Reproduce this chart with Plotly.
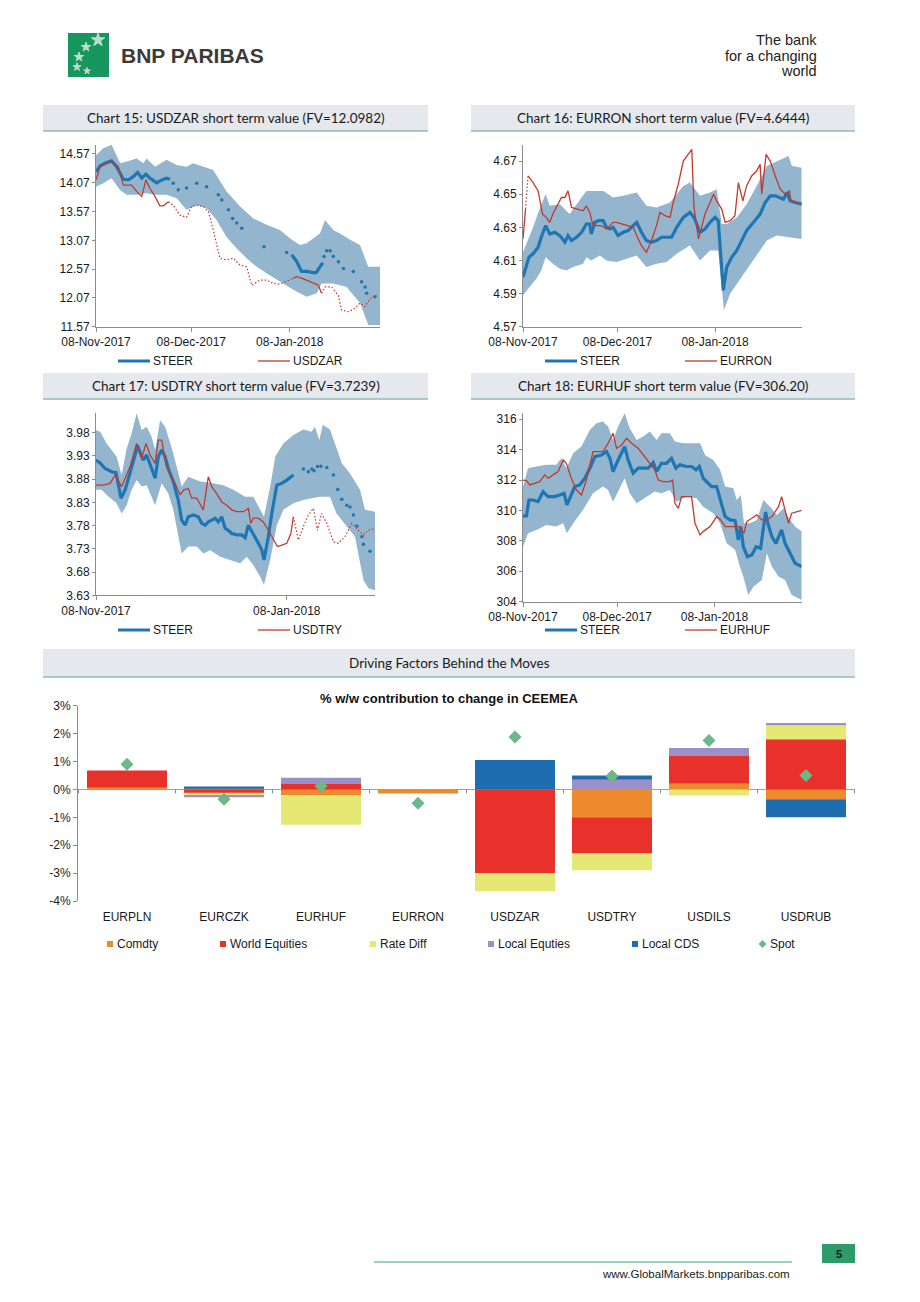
import pandas as pd
import plotly.graph_objects as go

W, H = 920, 1302
BASE = pd.Timestamp("2017-11-08")
FONT = "Liberation Sans, Arial, sans-serif"
TFONT = "Lato, Open Sans, sans-serif"
BLUE = "#1E76B3"
RED = "#C23A2C"
BAND = "#93B5CE"
AX = "#8C8C8C"
TXT = "#1A1A1A"

# ---------------- shared tick labels ----------------
date_tickvals = ["2017-11-08", "2017-12-08", "2018-01-08"]
date_ticktext = ["08-Nov-2017", "08-Dec-2017", "08-Jan-2018"]
try_date_tickvals = ["2017-11-08", "2018-01-08"]
try_date_ticktext = ["08-Nov-2017", "08-Jan-2018"]

# ---------------- Chart 15: USDZAR (days since 08-Nov-2017) ----------------
zar_yticks = [11.57, 12.07, 12.57, 13.07, 13.57, 14.07, 14.57]
zar_steer_days = [0, 1.3, 2.8, 4.9, 6.5, 8.6, 10.2, 11.8, 13.1, 14.4, 15.7, 17, 19.1, 20.7, 22.2, 23.3,
                  24.3, 25.9, 28.5, 31.7, 34.8, 38.5, 39.6, 41.7, 43, 44.3, 45.9, 52.9, 60,
                  61.6, 63.2, 64.7, 66.3, 68.4, 69.3, 70.5, 71.4,
                  71.8, 72.6, 73.7, 74.7, 76.3, 77.9, 81, 83.6, 84.7, 85.2, 87.8]
zar_steer = [14.26, 14.36, 14.41, 14.45, 14.35, 14.13, 14.12, 14.18, 14.25, 14.15, 14.22, 14.15, 14.07, 14.12, 14.15, 14.13,
             14.06, 13.95, 13.98, 14.06, 14.00, 13.86, 13.77, 13.60, 13.45, 13.37, 13.28, 12.96, 12.86,
             12.82, 12.70, 12.53, 12.53, 12.51, 12.51, 12.61, 12.68,
             12.79, 12.89, 12.89, 12.79, 12.70, 12.58, 12.53, 12.35, 12.26, 12.15, 12.09]
zar_spot_days = [0, 1.3, 4.9, 7, 8.6, 11.2, 12.8, 14.4, 15.7, 17, 18.6, 20.1, 21.2, 22.8,
                 24.3, 26.4, 28.5, 30.1, 31.7, 33.8, 35.4, 36.9, 39, 41.1, 43.2, 45.3, 47.4, 49, 51.6, 53.7, 55.8, 57.9, 60.5,
                 62.1, 63.2, 65.3, 67.4, 70, 71,
                 72.1, 74.2, 76.3, 77.3, 79.4, 81.5, 83.1, 84.7, 86.3, 88.4]
zar_spot = [14.12, 14.35, 14.44, 14.35, 14.03, 14.03, 13.92, 13.83, 14.12, 13.97, 13.83, 13.67, 13.67, 13.74,
            13.68, 13.51, 13.47, 13.66, 13.68, 13.66, 13.57, 13.25, 12.76, 12.73, 12.76, 12.64, 12.61, 12.29, 12.38, 12.38, 12.32, 12.31, 12.38,
            12.41, 12.44, 12.40, 12.35, 12.29, 12.15,
            12.26, 12.26, 12.11, 11.86, 11.83, 11.89, 11.98, 11.92, 12.06, 12.12]
zar_up_days = [0, 2.3, 4.9, 7.6, 9.7, 12.8, 14.9, 15.9, 18.6, 22.2, 25.4, 28.5, 30.6, 33.8, 36.9, 41.1, 45.3, 49.5,
               53.7, 57.9, 61.1, 64.2, 66.3, 70.5, 72.1, 74.7, 76.8, 80, 83.1, 85.7, 89.4]
zar_up = [14.55, 14.67, 14.73, 14.41, 14.44, 14.49, 14.41, 14.49, 14.35, 14.47, 14.38, 14.35, 14.41, 14.35, 14.29, 13.92, 13.66, 13.45,
          13.34, 13.25, 13.10, 12.99, 13.02, 13.19, 13.42, 13.25, 13.19, 13.08, 12.99, 12.61, 12.61]
zar_lo_days = [0, 2.3, 4.9, 7.6, 9.7, 12.8, 15.9, 18.6, 22.2, 25.4, 28.5, 31.7, 34.8, 38, 41.1, 44.3, 47.4, 50.6,
               53.7, 57.9, 62.1, 66.3, 69.5, 71, 74.7, 78.9, 83.1, 85.7, 89.4]
zar_lo = [14.00, 14.06, 14.15, 13.94, 13.86, 13.86, 13.89, 13.86, 13.86, 13.80, 13.60, 13.68, 13.63, 13.42, 13.13, 12.93, 12.76, 12.61,
          12.50, 12.35, 12.21, 12.09, 12.15, 12.32, 12.32, 12.26, 11.98, 11.60, 11.60]

# ---------------- Chart 16: EURRON ----------------
ron_yticks = [4.57, 4.59, 4.61, 4.63, 4.65, 4.67]
ron_steer_days = [0, 1.1, 1.9, 3.2, 4.8, 5.8, 7.2, 8.5, 10.1, 11.7, 13.3, 14.3, 15.4, 17, 18.6, 20.1, 21.2, 21.7, 22.8, 23.9,
                  25.5, 26.5, 27.6, 28.6, 30.2, 31.8, 33.4, 35, 36.1, 37.6, 39.2, 40.8, 42.4, 44, 45.6, 47.2, 48.8, 50.9, 53, 54.3,
                  56.2, 57.8, 59.4, 61, 62, 62.8, 63.6, 64.7, 66.3, 67.9, 69.5, 71, 73.2, 75.3, 76.9, 78.5, 80.1, 81.7, 82.7, 83.8,
                  84.8, 86.4, 88.5]
ron_steer = [4.600, 4.607, 4.612, 4.614, 4.618, 4.624, 4.631, 4.626, 4.627, 4.625, 4.621, 4.625, 4.622, 4.624, 4.627, 4.632, 4.632, 4.626, 4.633, 4.634,
             4.634, 4.630, 4.629, 4.630, 4.625, 4.627, 4.628, 4.631, 4.633, 4.627, 4.622, 4.621, 4.622, 4.624, 4.624, 4.624, 4.630, 4.636, 4.639, 4.636,
             4.627, 4.629, 4.633, 4.636, 4.634, 4.612, 4.592, 4.606, 4.612, 4.616, 4.622, 4.628, 4.633, 4.638, 4.645, 4.649, 4.649, 4.648, 4.647, 4.651,
             4.646, 4.645, 4.644]
ron_spot_days = [0, 0.8, 1.6, 3.2, 4.8, 6.2, 7.4, 8.5, 9.5, 10.8, 12.2, 13.3, 14.3, 15.4, 17, 19.1, 20.1, 21.2, 22.1, 23.3,
                 24.9, 26.5, 27.6, 28.6, 29.7, 31.3, 32.9, 35, 36.1, 37.6, 39.2, 40.8, 42.4, 43.5, 45.1, 46.7, 47.7, 49.3, 50.9, 52.5,
                 53.6, 54.3, 55.7, 56.7, 57.8, 59.4, 60.5, 61.5, 62.4, 63.1, 64.2, 65.8, 67.3, 68.4, 69.8, 71, 72.6, 74.2, 75.3, 75.8,
                 77.2, 78.5, 80.1, 81.7, 83.3, 84.6, 85.1, 86.4, 88.5]
ron_spot = [4.623, 4.641, 4.661, 4.657, 4.652, 4.638, 4.636, 4.633, 4.638, 4.643, 4.648, 4.648, 4.652, 4.642, 4.641, 4.640, 4.643, 4.639, 4.632, 4.631,
            4.631, 4.629, 4.631, 4.633, 4.633, 4.632, 4.631, 4.630, 4.625, 4.619, 4.615, 4.622, 4.631, 4.639, 4.637, 4.636, 4.645, 4.656, 4.670, 4.674,
            4.677, 4.642, 4.623, 4.630, 4.638, 4.645, 4.650, 4.646, 4.643, 4.641, 4.633, 4.634, 4.637, 4.657, 4.646, 4.655, 4.661, 4.664, 4.668, 4.650,
            4.674, 4.670, 4.661, 4.653, 4.650, 4.652, 4.646, 4.645, 4.644]
ron_up_days = [0, 3.2, 5.8, 7.2, 8.5, 11.7, 14.8, 18, 20.1, 22.3, 25.5, 28.6, 31.8, 36.1, 39.2, 42.4, 46.7, 50.9, 53, 56.2,
               59.4, 61.5, 63.1, 64.7, 67.9, 71, 74.2, 77.4, 80.6, 84.3, 85.4, 88.5]
ron_up = [4.615, 4.630, 4.644, 4.650, 4.643, 4.644, 4.638, 4.646, 4.652, 4.652, 4.652, 4.648, 4.649, 4.651, 4.643, 4.642, 4.645, 4.655, 4.657, 4.649,
          4.651, 4.653, 4.632, 4.632, 4.636, 4.644, 4.655, 4.667, 4.670, 4.673, 4.667, 4.666]
ron_lo_days = [0, 2.1, 4.2, 5.8, 7.2, 9.5, 11.7, 13.8, 15.9, 19.1, 20.1, 21.7, 24.4, 26.5, 29.7, 32.9, 36.1, 39.2, 42.4, 45.6,
               48.8, 53, 56.2, 59.4, 62, 63.1, 63.8, 65.8, 67.9, 71, 74.2, 77.4, 80.6, 83.8, 88.5]
ron_lo = [4.589, 4.594, 4.599, 4.604, 4.612, 4.608, 4.605, 4.604, 4.606, 4.608, 4.612, 4.610, 4.613, 4.610, 4.609, 4.611, 4.613, 4.606, 4.608, 4.609,
          4.614, 4.619, 4.610, 4.616, 4.616, 4.594, 4.580, 4.590, 4.596, 4.604, 4.613, 4.622, 4.625, 4.624, 4.623]

# ---------------- Chart 17: USDTRY ----------------
try_yticks = [3.63, 3.68, 3.73, 3.78, 3.83, 3.88, 3.93, 3.98]
try_steer_days = [0, 1.3, 2.9, 5, 6.4, 7.1, 8, 9.3, 10.9, 12.5, 13.2, 14.1, 15.1, 16.2, 17.8, 18.9, 19.9, 21, 22.1, 23.1,
                  24.7, 26.3, 27.4, 28.5, 29.5, 31.1, 32.7, 33.8, 34.9, 35.9, 37, 38.1, 39.1, 40.2, 41.3, 42.3, 43.4, 45, 46.6, 47.7,
                  48.7, 50.3, 51.9, 53, 53.7, 55.1, 56.2, 57.8, 59.4, 61, 62, 63.1,
                  66.3, 67.9, 69, 69.7, 70.8, 71.9, 73.8, 75.9, 77.3, 78.6, 80.2, 81.2, 82.3, 83.4, 85, 85.5, 87.6]
try_steer = [3.921, 3.915, 3.903, 3.896, 3.894, 3.867, 3.839, 3.857, 3.892, 3.932, 3.953, 3.939, 3.921, 3.932, 3.900, 3.882, 3.928, 3.943, 3.928, 3.903,
             3.875, 3.835, 3.792, 3.781, 3.799, 3.803, 3.799, 3.785, 3.781, 3.788, 3.792, 3.796, 3.788, 3.799, 3.774, 3.770, 3.763, 3.760, 3.760, 3.754,
             3.781, 3.763, 3.742, 3.728, 3.706, 3.756, 3.806, 3.867, 3.871, 3.878, 3.884, 3.889,
             3.902, 3.896, 3.902, 3.898, 3.907, 3.908, 3.905, 3.889, 3.858, 3.837, 3.824, 3.820, 3.803, 3.779, 3.756, 3.740, 3.725]
try_spot_days = [0, 2.3, 4.5, 6.1, 8.2, 9.8, 10.9, 13, 14.6, 16, 17.3, 18.9, 19.9, 21, 22.4, 23.7, 25.3, 26.9, 28.1, 29.5,
                 30.6, 32.2, 34.3, 35.1, 35.9, 37, 38.6, 40.2, 41.8, 43.4, 45, 47.1, 48.7, 49.5, 50.3, 51.9, 53.5, 55.1, 56.7, 58,
                 59.4, 61, 62.3, 63.1, 64.7, 66.3, 67.9, 69.5, 70.8, 72.1, 73.8, 75.9, 77.5, 79.6, 81.8, 83.9, 85.5, 87.1, 89.2]
try_spot = [3.867, 3.867, 3.871, 3.889, 3.864, 3.889, 3.907, 3.957, 3.925, 3.957, 3.932, 3.914, 3.964, 3.964, 3.910, 3.889, 3.871, 3.846, 3.857, 3.860,
            3.839, 3.839, 3.814, 3.849, 3.885, 3.864, 3.849, 3.831, 3.824, 3.814, 3.810, 3.810, 3.817, 3.785, 3.796, 3.796, 3.788, 3.770, 3.749, 3.735,
            3.738, 3.742, 3.763, 3.799, 3.749, 3.778, 3.803, 3.817, 3.770, 3.806, 3.785, 3.745, 3.742, 3.756, 3.785, 3.770, 3.760, 3.770, 3.774]
try_up_days = [0, 1.3, 3.4, 6.6, 8.2, 9.8, 11.4, 13, 14.6, 16.2, 17.8, 18.9, 20.5, 22.1, 24.7, 27.4, 29.5, 33.3, 37.5, 40.7,
               43.9, 47.7, 50.3, 52.5, 53.7, 55.7, 57.3, 59.9, 63.1, 66.3, 68.9, 70, 71.4, 72.5, 74.8, 76.4, 78.6, 81.2, 84.4, 86, 89.2]
try_up = [3.986, 3.982, 3.957, 3.928, 3.889, 3.946, 3.979, 4.022, 3.986, 3.993, 3.971, 3.943, 4.007, 3.993, 3.936, 3.864, 3.885, 3.875, 3.871, 3.867,
          3.857, 3.842, 3.842, 3.814, 3.799, 3.864, 3.928, 3.957, 3.975, 3.987, 3.982, 3.993, 3.964, 3.997, 3.987, 3.957, 3.914, 3.892, 3.857, 3.814, 3.810]
try_lo_days = [0, 1.8, 3.4, 6.6, 8.2, 9.8, 11.4, 13, 14.6, 16.2, 17.8, 18.9, 21, 23.1, 24.7, 27.4, 29.5, 32.2, 34.3, 36.5,
               39.7, 42.9, 46.1, 48.2, 50.3, 52.5, 53.7, 55.7, 57.8, 59.9, 63.1, 66.3, 68.9, 71.6, 74.8, 76.9, 80.2, 82.8, 85.5, 87.1, 89.2]
try_lo = [3.857, 3.857, 3.846, 3.828, 3.806, 3.824, 3.857, 3.878, 3.864, 3.867, 3.842, 3.824, 3.871, 3.849, 3.814, 3.720, 3.735, 3.735, 3.720, 3.727,
          3.713, 3.706, 3.699, 3.713, 3.695, 3.670, 3.652, 3.706, 3.781, 3.814, 3.828, 3.835, 3.839, 3.842, 3.842, 3.806, 3.778, 3.756, 3.663, 3.645, 3.641]

# ---------------- Chart 18: EURHUF ----------------
huf_yticks = [304, 306, 308, 310, 312, 314, 316]
huf_steer_days = [0, 1.1, 1.9, 3.2, 4.8, 6.4, 8, 10.1, 11.7, 13.1, 14, 14.9, 16.5, 18.1, 19.7, 21.3, 22.9, 25, 26.6, 27.7,
                  28.7, 30.3, 32.4, 33.5, 35.1, 36.7, 38.3, 39.9, 41.5, 42.6, 44.1, 45.7, 47.3, 48.7, 50, 52.1, 53.7, 55.1, 56.2, 57.4,
                  59, 60.1, 61.7, 62.8, 64.4, 66, 67.6, 68.6, 69.4, 70.2, 71.5, 72.9, 74.3, 75.7, 77.3, 78, 79.3, 80.6, 82.4, 83.5,
                  85.1, 86.7, 88.8]
huf_steer = [309.64, 309.64, 310.69, 310.69, 310.58, 311.24, 310.91, 310.91, 311.02, 311.13, 310.36, 310.80, 311.57, 311.68, 312.12, 312.78, 313.54, 313.65, 313.87, 313.43,
             312.56, 313.32, 314.20, 313.32, 312.45, 312.78, 312.78, 312.78, 313.15, 312.56, 313.10, 313.10, 313.43, 312.78, 313.00, 312.89, 312.89, 312.67, 312.89, 312.12,
             311.79, 311.57, 311.57, 310.69, 309.60, 309.38, 309.33, 308.06, 308.94, 307.62, 306.96, 307.07, 307.62, 307.51, 309.90, 309.16, 308.28, 307.84, 308.72, 307.84,
             307.18, 306.53, 306.31]
huf_spot_days = [0, 1.1, 2.1, 3.7, 5.3, 6.9, 8, 9.6, 11.2, 12.8, 13.8, 15.4, 17, 18.6, 20.2, 22.3, 23.9, 25.5, 27.1, 28.7,
                 29.8, 31.4, 33, 34.6, 36.7, 38.3, 40.4, 42, 43.1, 44.7, 46.8, 47.7, 48.4, 49.5, 50.5, 52.7, 53.7, 54.8, 56.4, 57.4,
                 59.6, 61.7, 63, 64.4, 66.5, 68.1, 69.1, 70.4, 71.3, 72.9, 74.5, 76.1, 77.7, 79.3, 81.4, 82.4, 83.5, 84.6, 85.6, 87.2, 88.8]
huf_spot = [312.00, 311.96, 311.68, 311.79, 311.90, 312.34, 312.12, 312.34, 312.56, 313.32, 313.10, 312.12, 311.35, 311.02, 312.00, 313.87, 313.87, 313.87, 314.42, 315.08,
            314.09, 314.31, 314.75, 314.42, 314.09, 313.65, 313.10, 312.67, 312.00, 311.90, 311.90, 312.00, 310.47, 310.14, 310.91, 310.91, 310.91, 309.16, 308.39, 308.61,
            308.94, 309.60, 309.38, 308.94, 308.94, 308.94, 308.94, 308.50, 309.27, 309.49, 309.71, 309.38, 309.38, 309.60, 310.25, 310.91, 310.03, 309.16, 309.82, 309.93, 310.00]
huf_up_days = [0, 1.6, 4.3, 7.4, 10.6, 12.2, 13.8, 16, 18.6, 21.3, 23.4, 25.5, 27.1, 28.7, 30.3, 32.4, 34, 36.2, 38.3, 40.4,
               42.6, 44.1, 46.8, 48.4, 51.1, 53.7, 56.4, 58, 60.6, 62.8, 64.4, 67, 68.1, 69.4, 70.4, 72.3, 74.5, 76.6, 78.7, 80.9,
               83, 85.1, 86.7, 88.8]
huf_up = [311.57, 312.78, 312.89, 313.00, 313.00, 313.43, 312.78, 313.76, 314.20, 315.30, 315.74, 315.85, 315.52, 314.64, 315.52, 316.39, 315.41, 314.64, 314.86, 315.19,
          314.64, 315.08, 315.08, 314.53, 314.42, 314.42, 314.42, 313.65, 313.32, 312.67, 311.57, 311.46, 310.69, 311.02, 309.16, 309.16, 309.38, 310.69, 310.25, 309.71,
          310.14, 309.38, 308.94, 308.61]
huf_lo_days = [0, 1.6, 4.3, 7.4, 10.6, 12.8, 14, 16, 19.1, 22.3, 25.5, 27.1, 28.7, 30.3, 32.4, 34, 36.2, 38.8, 42, 44.1,
               46.8, 48.9, 52.1, 55.3, 57.4, 60.6, 62.8, 64.9, 67.6, 69.1, 70.2, 71.8, 73.4, 76.1, 77.7, 79.3, 81.4, 83.5, 85.6, 88.8]
huf_lo = [307.62, 308.50, 308.72, 309.05, 308.94, 309.16, 308.50, 309.16, 310.03, 311.13, 311.57, 311.35, 310.58, 311.24, 312.12, 311.13, 310.47, 310.80, 311.24, 311.13,
          311.35, 310.58, 310.91, 310.80, 310.25, 309.82, 309.16, 307.84, 307.40, 306.31, 305.65, 304.44, 304.99, 305.43, 307.18, 306.31, 305.65, 305.43, 304.44, 304.11]

# ---------------- Bar chart: % w/w contribution ----------------
bar_categories = ["EURPLN", "EURCZK", "EURHUF", "EURRON", "USDZAR", "USDTRY", "USDILS", "USDRUB"]
comdty = [0.06, 0.05, -0.20, -0.15, 0.00, -1.00, 0.20, -0.35]
world_equities = [0.62, -0.13, 0.19, 0.00, -3.00, -1.30, 1.00, 1.80]
rate_diff = [0.00, -0.07, -1.07, 0.00, -0.65, -0.60, -0.22, 0.50]
local_equities = [0.00, -0.08, 0.23, 0.00, 0.00, 0.35, 0.28, 0.08]
local_cds = [0.00, 0.05, 0.00, 0.00, 1.05, 0.15, 0.00, -0.65]
spot = [0.90, -0.35, 0.12, -0.50, 1.88, 0.48, 1.75, 0.50]
bar_yticks = [-4, -3, -2, -1, 0, 1, 2, 3]
factor_names = ["Comdty", "World Equities", "Rate Diff", "Local Equties", "Local CDS"]
factor_colors = ["#EE8A2E", "#E8312A", "#E6E874", "#9C90C9", "#1F6DB1"]
SPOT_COLOR = "#6CB887"


def px(x):
    return x / W


def py(y):
    return 1 - y / H


def dstr(d):
    return (BASE + pd.Timedelta(days=d)).strftime("%Y-%m-%d %H:%M:%S")


def seg(days, vals, ranges):
    xs, ys = [], []
    for lo, hi in ranges:
        for d, v in zip(days, vals):
            if lo <= d <= hi:
                xs.append(dstr(d))
                ys.append(v)
        xs.append(None)
        ys.append(None)
    return xs, ys


fig = go.Figure()


def add_line_chart(n, steer_days, steer, spot_days, spot_vals, up_days, up, lo_days, lo,
                   steer_solid, steer_dots, spot_solid, spot_dotted):
    xa = "x" if n == 1 else f"x{n}"
    ya = "y" if n == 1 else f"y{n}"
    bx = [dstr(d) for d in up_days] + [dstr(d) for d in lo_days][::-1]
    by = list(up) + list(lo)[::-1]
    fig.add_trace(go.Scatter(x=bx, y=by, fill="toself", fillcolor=BAND, mode="lines",
                             line=dict(width=0, color=BAND), xaxis=xa, yaxis=ya, hoverinfo="skip"))
    x, y = seg(steer_days, steer, steer_solid)
    fig.add_trace(go.Scatter(x=x, y=y, mode="lines", line=dict(color=BLUE, width=3.2),
                             xaxis=xa, yaxis=ya, name="STEER"))
    if steer_dots:
        x, y = seg(steer_days, steer, steer_dots)
        fig.add_trace(go.Scatter(x=x, y=y, mode="markers", marker=dict(color=BLUE, size=3.5),
                                 xaxis=xa, yaxis=ya, name="STEER"))
    x, y = seg(spot_days, spot_vals, spot_solid)
    fig.add_trace(go.Scatter(x=x, y=y, mode="lines", line=dict(color=RED, width=1.3),
                             xaxis=xa, yaxis=ya, name="spot"))
    if spot_dotted:
        x, y = seg(spot_days, spot_vals, spot_dotted)
        fig.add_trace(go.Scatter(x=x, y=y, mode="lines", line=dict(color=RED, width=1.2, dash="1.5px,2px"),
                                 xaxis=xa, yaxis=ya, name="spot"))


add_line_chart(1, zar_steer_days, zar_steer, zar_spot_days, zar_spot, zar_up_days, zar_up, zar_lo_days, zar_lo,
               [(0, 23.3), (61.6, 71.4)], [(24, 61), (71.5, 95)], [(0, 22.8), (62.1, 71)], [(22.8, 62.1), (71, 95)])
add_line_chart(2, ron_steer_days, ron_steer, ron_spot_days, ron_spot, ron_up_days, ron_up, ron_lo_days, ron_lo,
               [(0, 95)], None, [(0, 0.8), (1.6, 95)], [(0.8, 1.6)])
add_line_chart(3, try_steer_days, try_steer, try_spot_days, try_spot, try_up_days, try_up, try_lo_days, try_lo,
               [(0, 63.1)], [(63.2, 95)], [(0, 63.1)], [(63.1, 95)])
add_line_chart(4, huf_steer_days, huf_steer, huf_spot_days, huf_spot, huf_up_days, huf_up, huf_lo_days, huf_lo,
               [(0, 95)], None, [(0, 95)], None)

# bar chart
for name, vals, col in zip(factor_names, [comdty, world_equities, rate_diff, local_equities, local_cds], factor_colors):
    fig.add_trace(go.Bar(x=bar_categories, y=vals, name=name, marker=dict(color=col, line=dict(width=0)),
                         xaxis="x5", yaxis="y5"))
fig.add_trace(go.Scatter(x=bar_categories, y=spot, mode="markers", name="Spot",
                         marker=dict(symbol="diamond", size=10, color=SPOT_COLOR), xaxis="x5", yaxis="y5"))

# logo birds (decoration, pixel axes)
fig.add_trace(go.Scatter(x=[98, 86, 79, 77, 87], y=[40, 47, 57, 67, 71], mode="markers",
                         marker=dict(symbol="star", size=[10, 7, 7, 6, 5], color="white"),
                         xaxis="x6", yaxis="y6", hoverinfo="skip"))

tickfont = dict(family=FONT, size=12, color=TXT)


def xdate(domain, end_days, tv, tt, anchor):
    return dict(domain=domain, type="date", range=[dstr(0), dstr(end_days)], tickvals=tv, ticktext=tt,
                ticks="outside", ticklen=4, tickcolor=AX, showline=True, linecolor=AX, linewidth=1,
                showgrid=False, zeroline=False, anchor=anchor, tickfont=tickfont, fixedrange=True, automargin=False)


def yval(domain, rng, tv, fmt, anchor):
    return dict(domain=domain, range=rng, tickvals=tv, ticktext=[fmt.format(v) for v in tv],
                ticks="outside", ticklen=3, tickcolor=AX, showline=True, linecolor=AX, linewidth=1,
                showgrid=False, zeroline=False, anchor=anchor, tickfont=tickfont, fixedrange=True, automargin=False)


top_dom = [py(326.7), py(145)]
bot_dom17 = [py(595.3), py(413)]
bot_dom18 = [py(601.7), py(413)]

layout = dict(
    width=W, height=H, margin=dict(l=0, r=0, t=0, b=0), template="none",
    paper_bgcolor="white", plot_bgcolor="rgba(0,0,0,0)", showlegend=False,
    font=dict(family=FONT, size=12, color=TXT),
    barmode="relative", bargap=0.175,
    xaxis=xdate([px(96), px(380)], 89.4, date_tickvals, date_ticktext, "y"),
    yaxis=yval(top_dom, [11.57, 14.726], zar_yticks, "{:.2f}", "x"),
    xaxis2=xdate([px(523), px(801.7)], 88.5, date_tickvals, date_ticktext, "y2"),
    yaxis2=yval(top_dom, [4.57, 4.6797], ron_yticks, "{:.2f}", "x2"),
    xaxis3=xdate([px(96), px(375)], 89.2, try_date_tickvals, try_date_ticktext, "y3"),
    yaxis3=yval(bot_dom17, [3.63, 4.0224], try_yticks, "{:.2f}", "x3"),
    xaxis4=xdate([px(523), px(801.7)], 88.8, date_tickvals, date_ticktext, "y4"),
    yaxis4=yval(bot_dom18, [304, 316.41], huf_yticks, "{:.0f}", "x4"),
    xaxis5=dict(domain=[px(78), px(855)], anchor="y5", type="category", showline=False, ticks="outside",
                ticklen=5, tickcolor="rgba(0,0,0,0)",
                showgrid=False, zeroline=False, tickfont=tickfont, fixedrange=True, automargin=False),
    yaxis5=dict(domain=[py(901), py(705.7)], anchor="x5", range=[-4, 3], tickvals=bar_yticks,
                ticktext=[f"{v}%" for v in bar_yticks], ticks="outside", ticklen=4, tickcolor=AX,
                showline=True, linecolor=AX, showgrid=False, zeroline=True, zerolinecolor="#A0A0A0",
                zerolinewidth=1, tickfont=tickfont, fixedrange=True, automargin=False),
    xaxis6=dict(domain=[0, 1], range=[0, W], anchor="y6", visible=False, fixedrange=True),
    yaxis6=dict(domain=[0, 1], range=[H, 0], anchor="x6", visible=False, fixedrange=True),
)
fig.update_layout(**layout)

shapes = []
annotations = []


def rect(x0, y0, x1, y1, fill, layer="above"):
    shapes.append(dict(type="rect", xref="paper", yref="paper", x0=px(x0), x1=px(x1), y0=py(y1), y1=py(y0),
                       fillcolor=fill, line=dict(width=0), layer=layer))


def hline(x0, x1, y, color, width, layer="above"):
    shapes.append(dict(type="line", xref="paper", yref="paper", x0=px(x0), x1=px(x1), y0=py(y), y1=py(y),
                       line=dict(color=color, width=width), layer=layer))


def text(x, y, s, size=12, anchor="left", family=FONT, color=TXT):
    annotations.append(dict(xref="paper", yref="paper", x=px(x), y=py(y), text=s, showarrow=False,
                            xanchor=anchor, yanchor="middle", font=dict(family=family, size=size, color=color)))


# header
rect(68, 33, 109, 77, "#17965D", layer="below")
text(119, 55, "<b>BNP PARIBAS</b>", size=21, color="#3A3A3A")
text(819, 40, "The bank", size=14.5, anchor="right", color="#222222")
text(819, 55.5, "for a changing", size=14.5, anchor="right", color="#222222")
text(819, 70.5, "world", size=14.5, anchor="right", color="#222222")

# title boxes
BOX = "#E5E9ED"
BOXLINE = "#8CBDB5"
for (x0, y0, x1, y1, label) in [
    (43, 105, 428, 131, "Chart 15: USDZAR short term value (FV=12.0982)"),
    (471, 105, 855, 131, "Chart 16: EURRON short term value (FV=4.6444)"),
    (43, 373, 428, 399, "Chart 17: USDTRY short term value (FV=3.7239)"),
    (471, 373, 855, 399, "Chart 18: EURHUF short term value (FV=306.20)"),
    (43, 649, 855, 677, "Driving Factors Behind the Moves"),
]:
    rect(x0, y0, x1, y1, BOX)
    hline(x0, x1, y1, BOXLINE, 1.5)
    text((x0 + x1) / 2, (y0 + y1) / 2, label, size=13.5, anchor="center", family=TFONT, color="#1A1A1A")

# line-chart legends
for (lx, ly, spot_name) in [(118, 361, "USDZAR"), (545, 361, "EURRON"), (118, 630, "USDTRY"), (545, 630, "EURHUF")]:
    hline(lx, lx + 32, ly, BLUE, 3)
    text(lx + 33, ly, "STEER")
    hline(lx + 140, lx + 172, ly, RED, 1.3)
    text(lx + 173, ly, spot_name)

# bar chart title
text(449, 698, "<b>% w/w contribution to change in CEEMEA</b>", size=13, anchor="center", color="#111111")

# bar chart category boundary ticks on the zero line
for i in range(len(bar_categories) + 1):
    shapes.append(dict(type="line", xref="x5", yref="y5", x0=i - 0.5, x1=i - 0.5, ysizemode="pixel",
                       yanchor=0, y0=0, y1=-4, line=dict(color=AX, width=1)))

# bar chart legend
leg_x = [107, 220, 370, 488, 632]
for lx, name, col in zip(leg_x, factor_names, factor_colors):
    rect(lx, 941, lx + 6, 947, col)
    text(lx + 8, 944, name)
shapes.append(dict(type="path", xref="paper", yref="paper",
                   path="M {} {} L {} {} L {} {} L {} {} Z".format(px(762.5), py(940), px(766.5), py(944),
                                                                 px(762.5), py(948), px(758.5), py(944)),
                   fillcolor=SPOT_COLOR, line=dict(width=0)))
text(768, 944, "Spot")

# footer
hline(374, 792, 1262, "#3E9E92", 1.2)
rect(822, 1244, 855, 1263, "#2E9B6A")
text(838.5, 1253.5, "<b>5</b>", size=11, anchor="center", color="#1A1A1A")
text(792, 1274, "www.GlobalMarkets.bnpparibas.com", size=11.5, anchor="right", color="#1A1A1A")

fig.update_layout(shapes=shapes, annotations=annotations)
fig.write_html("out.html", config={"displayModeBar": False},
               post_script="document.body.style.margin='0px';")
